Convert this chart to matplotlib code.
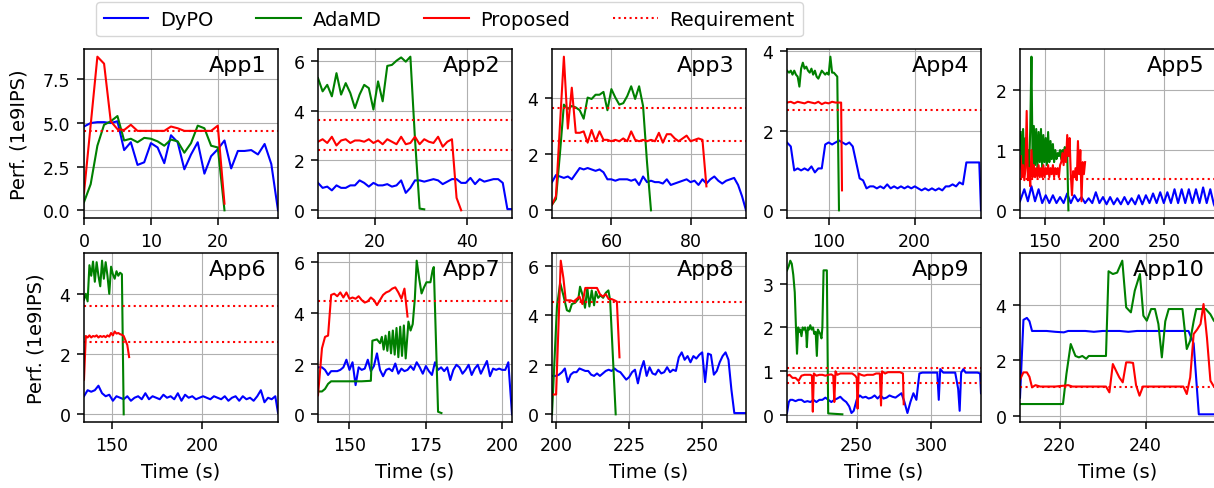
import matplotlib
matplotlib.use("Agg")
import matplotlib.pyplot as plt
from matplotlib.lines import Line2D

# ---------------- data ----------------
series_names = ["DyPO", "AdaMD", "Proposed", "Requirement"]
app_names = ["App1", "App2", "App3", "App4", "App5", "App6", "App7", "App8", "App9", "App10"]

# App1
app1_t_dypo = [0, 1, 2, 3, 4, 5, 6, 7, 8, 9, 10, 11, 12, 13, 14, 15, 16, 17, 18, 19, 20, 21, 22, 23, 24, 25, 26, 27, 28, 29]
app1_dypo = [4.8, 5.0, 5.05, 5.05, 5.0, 5.1, 3.45, 3.9, 2.6, 2.75, 3.85, 3.6, 2.7, 4.3, 3.9, 2.35, 3.2, 3.9, 2.1, 3.1, 3.5, 4.0, 2.4, 3.4, 3.4, 3.45, 3.2, 3.8, 2.65, 0.0]
app1_t_ada = [0, 1, 2, 3, 4, 5, 6, 7, 8, 9, 10, 11, 12, 13, 14, 15, 16, 17, 18, 19, 20, 21]
app1_adamd = [0.47, 1.5, 3.7, 4.9, 5.1, 5.4, 4.0, 4.1, 3.9, 4.15, 4.1, 3.95, 3.7, 4.05, 3.95, 3.3, 3.85, 4.85, 4.7, 3.7, 3.6, 0.0]
app1_t_prop = [0, 1, 2, 3, 4, 5, 6, 7, 8, 9, 10, 11, 12, 13, 14, 15, 16, 17, 18, 19, 20, 21]
app1_prop = [1.0, 4.9, 8.8, 8.4, 5.1, 4.65, 4.6, 4.9, 4.55, 4.55, 4.55, 4.55, 4.55, 4.8, 4.7, 4.55, 4.55, 4.55, 4.55, 4.55, 4.85, 0.38]
app1_req = [4.55]

# App2
app2_t_dypo = [7.7, 8.7, 9.7, 10.7, 11.7, 12.7, 13.7, 14.7, 15.7, 16.7, 17.7, 18.7, 19.7, 20.7, 21.7, 22.7, 23.7, 24.7, 25.7, 26.7, 27.7, 28.7, 29.7, 30.7, 31.7, 32.7, 33.7, 34.7, 35.7, 36.7, 37.7, 38.7, 39.7, 40.7, 41.7, 42.7, 43.7, 44.7, 45.7, 46.7, 47.7, 48.7, 49.7]
app2_dypo = [1.1, 0.9, 0.95, 0.8, 1.0, 0.9, 0.9, 1.0, 1.0, 1.2, 1.1, 0.95, 1.1, 1.0, 1.0, 1.05, 0.95, 1.0, 1.2, 0.7, 0.9, 1.2, 1.2, 1.15, 1.2, 1.25, 1.2, 1.05, 1.15, 1.25, 1.25, 1.1, 1.1, 1.3, 1.05, 1.25, 1.15, 1.2, 1.25, 1.25, 1.1, 0.05, 0.05]
app2_t_ada = [7.7, 8.7, 9.7, 10.7, 11.7, 12.7, 13.7, 14.7, 15.7, 16.7, 17.7, 18.7, 19.7, 20.7, 21.7, 22.7, 23.7, 24.7, 25.7, 26.7, 27.7, 28.7, 29.7, 30.7]
app2_adamd = [5.3, 4.77, 5.03, 4.57, 5.5, 4.64, 5.1, 4.7, 4.1, 4.64, 5.03, 4.9, 4.04, 5.17, 4.37, 5.79, 5.83, 6.0, 6.13, 5.96, 6.16, 2.85, 0.07, 0.04]
app2_t_prop = [7.7, 8.7, 9.7, 10.7, 11.7, 12.7, 13.7, 14.7, 15.7, 16.7, 17.7, 18.7, 19.7, 20.7, 21.7, 22.7, 23.7, 24.7, 25.7, 26.7, 27.7, 28.7, 29.7, 30.7, 31.7, 32.7, 33.7, 34.7, 35.7, 36.7, 37.7, 38.7]
app2_prop = [2.75, 2.85, 2.7, 2.95, 2.6, 2.8, 2.85, 2.7, 2.8, 2.8, 2.75, 2.85, 2.7, 2.8, 2.65, 2.85, 2.75, 2.65, 2.95, 2.65, 2.7, 2.95, 2.65, 2.85, 2.75, 2.7, 2.95, 2.55, 2.75, 2.85, 0.5, 0.0]
app2_req = [3.62, 2.42]

# App3
app3_t_dypo = [45, 46, 47, 48, 49, 50, 51, 52, 53, 54, 55, 56, 57, 58, 59, 60, 61, 62, 63, 64, 65, 66, 67, 68, 69, 70, 71, 72, 73, 74, 75, 76, 77, 78, 79, 80, 81, 82, 83, 84, 85, 86, 87, 88, 89, 90, 91, 92, 93, 94]
app3_dypo = [1.0, 1.25, 1.2, 1.15, 1.2, 1.1, 1.3, 1.5, 1.45, 1.5, 1.45, 1.4, 1.45, 1.35, 1.1, 1.1, 1.05, 1.1, 1.1, 1.1, 1.05, 1.1, 0.9, 1.2, 1.0, 1.05, 1.0, 1.0, 0.95, 1.1, 0.9, 0.95, 1.0, 1.05, 1.1, 1.0, 1.05, 0.9, 1.1, 0.95, 1.1, 1.2, 1.05, 0.95, 1.05, 1.1, 1.15, 0.9, 0.5, 0.0]
app3_t_ada = [45, 46, 47, 48, 49, 50, 51, 52, 53, 54, 55, 56, 57, 58, 59, 60, 61, 62, 63, 64, 65, 66, 67, 68, 69, 70]
app3_adamd = [0.2, 0.4, 2.0, 3.75, 3.6, 3.7, 3.65, 3.55, 3.25, 4.0, 3.95, 4.1, 4.1, 4.2, 3.55, 4.3, 4.0, 3.75, 3.8, 4.05, 4.4, 3.95, 4.4, 3.7, 1.7, 0.0]
app3_t_prop = [45, 46, 47, 48, 49, 50, 51, 52, 53, 54, 55, 56, 57, 58, 59, 60, 61, 62, 63, 64, 65, 66, 67, 68, 69, 70, 71, 72, 73, 74, 75, 76, 77, 78, 79, 80, 81, 82, 83, 84]
app3_prop = [0.2, 0.5, 3.0, 5.45, 2.9, 4.35, 2.75, 2.75, 2.8, 2.4, 2.85, 2.45, 2.8, 2.5, 2.5, 2.45, 2.5, 2.45, 2.55, 2.45, 2.8, 2.5, 2.45, 2.5, 2.45, 2.5, 2.45, 2.75, 2.4, 2.7, 2.7, 2.55, 2.45, 2.55, 2.65, 2.45, 2.5, 2.55, 2.5, 0.85]
app3_req = [3.62, 2.45]

# App4
app4_t_dypo = [51.6, 56, 60, 64, 68, 72, 76, 80, 84, 88, 92, 96, 100, 104, 108, 112, 116, 120, 124, 128, 132, 136, 140, 144, 148, 152, 156, 160, 164, 168, 172, 176, 180, 184, 188, 192, 196, 200, 204, 208, 212, 216, 220, 224, 228, 232, 236, 240, 244, 248, 252, 256, 260, 264, 268, 272, 275, 277]
app4_dypo = [1.7, 1.6, 1.0, 1.05, 1.0, 1.05, 1.0, 1.1, 0.95, 1.05, 1.05, 1.65, 1.7, 1.65, 1.7, 1.75, 1.7, 1.65, 1.7, 1.6, 1.2, 0.8, 0.75, 0.55, 0.6, 0.6, 0.55, 0.6, 0.55, 0.65, 0.55, 0.6, 0.55, 0.6, 0.55, 0.6, 0.55, 0.6, 0.55, 0.5, 0.55, 0.5, 0.55, 0.5, 0.55, 0.5, 0.6, 0.6, 0.65, 0.6, 0.7, 0.65, 1.2, 1.2, 1.2, 1.2, 1.2, 0.0]
app4_t_ada = [51.6, 54, 56, 58, 60, 62, 64, 66, 68, 70, 72, 74, 76, 78, 80, 82, 84, 86, 88, 90, 92, 94, 96, 98, 100, 102, 104, 106, 108, 110, 112]
app4_adamd = [3.5, 3.45, 3.5, 3.4, 3.5, 3.4, 3.35, 3.1, 3.55, 3.7, 3.55, 3.6, 3.5, 3.45, 3.55, 3.4, 3.5, 3.35, 3.3, 3.4, 3.5, 3.45, 3.4, 3.45, 3.4, 3.85, 3.45, 3.45, 3.4, 3.35, 0.0]
app4_t_prop = [51.6, 56, 60, 64, 68, 72, 76, 80, 84, 88, 92, 96, 100, 104, 108, 112, 114.5, 115.5]
app4_prop = [2.7, 2.72, 2.68, 2.72, 2.7, 2.68, 2.72, 2.7, 2.68, 2.72, 2.66, 2.7, 2.68, 2.72, 2.7, 2.7, 2.7, 0.5]
app4_req = [2.52]

# App5
app5_t_dypo = [129.4, 133, 136, 139, 142, 145, 148, 151, 154, 157, 160, 163, 166, 169, 172, 175, 178, 181, 184, 187, 190, 193, 196, 199, 202, 205, 208, 211, 214, 217, 220, 223, 226, 229, 232, 235, 238, 241, 244, 247, 250, 253, 256, 259, 262, 265, 268, 271, 274, 277, 280, 283, 286, 289, 292, 293.8]
app5_dypo = [0.15, 0.35, 0.15, 0.4, 0.15, 0.35, 0.12, 0.25, 0.12, 0.25, 0.12, 0.22, 0.12, 0.28, 0.12, 0.25, 0.15, 0.22, 0.12, 0.2, 0.12, 0.3, 0.12, 0.22, 0.1, 0.22, 0.1, 0.2, 0.1, 0.22, 0.1, 0.2, 0.1, 0.25, 0.1, 0.25, 0.12, 0.28, 0.12, 0.3, 0.12, 0.3, 0.12, 0.35, 0.12, 0.35, 0.12, 0.35, 0.12, 0.35, 0.12, 0.38, 0.12, 0.35, 0.1, 0.02]
app5_t_ada = [130, 131, 132, 133, 134, 135, 136, 137, 138, 139, 140, 141, 142, 143, 144, 145, 146, 147, 148, 149, 150, 151, 152, 153, 154, 155, 156, 157, 158, 159, 160, 161, 162, 163, 164, 165, 166, 167, 168, 169, 170]
app5_adamd = [1.3, 0.7, 1.35, 0.6, 1.2, 0.75, 1.0, 0.65, 1.35, 2.55, 0.7, 1.4, 0.75, 1.35, 0.7, 1.3, 0.8, 1.35, 0.7, 1.25, 0.8, 1.2, 0.75, 1.3, 0.8, 1.15, 0.85, 1.1, 0.8, 1.0, 0.85, 0.95, 0.9, 1.0, 0.85, 1.0, 0.95, 1.05, 0.9, 0.95, 0.0]
app5_t_prop = [130, 131, 132, 133, 134, 135, 136, 137, 138, 139, 140, 141, 142, 143, 144, 145, 146, 147, 148, 149, 150, 151, 152, 153, 154, 155, 156, 157, 158, 159, 160, 161, 162, 163, 164, 165, 166, 167, 168, 169, 170, 171, 172, 173, 174, 175, 176, 177, 178, 179, 180, 181, 182, 183, 184]
app5_prop = [0.9, 0.55, 0.75, 0.5, 0.7, 1.65, 0.5, 0.7, 0.4, 1.0, 0.55, 0.75, 0.55, 0.7, 0.55, 0.75, 0.55, 0.7, 0.55, 0.75, 0.55, 0.7, 0.6, 0.75, 0.55, 0.7, 0.6, 0.75, 0.55, 0.7, 0.6, 0.7, 0.55, 0.75, 0.8, 0.95, 0.75, 1.0, 0.8, 1.25, 0.9, 1.2, 0.6, 0.25, 0.65, 0.55, 0.7, 0.5, 1.15, 0.6, 1.0, 0.15, 0.8, 0.6, 0.8]
app5_req = [0.52]

# App6
app6_t_dypo = [134.5, 136.5, 138.5, 140.5, 142.5, 144.5, 146.5, 148.5, 150.5, 152.5, 154.5, 156.5, 158.5, 160.5, 162.5, 164.5, 166.5, 168.5, 170.5, 172.5, 174.5, 176.5, 178.5, 180.5, 182.5, 184.5, 186.5, 188.5, 190.5, 192.5, 194.5, 196.5, 198.5, 200.5, 202.5, 204.5, 206.5, 208.5, 210.5, 212.5, 214.5, 216.5, 218.5, 220.5, 222.5, 224.5, 226.5, 228.5, 230.5, 232.5, 234.5, 236.5, 238.5, 240.5, 242]
app6_dypo = [0.6, 0.8, 0.75, 0.8, 0.95, 0.7, 0.6, 0.65, 0.45, 0.6, 0.55, 0.5, 0.6, 0.45, 0.55, 0.6, 0.5, 0.7, 0.5, 0.6, 0.55, 0.5, 0.65, 0.55, 0.6, 0.5, 0.7, 0.45, 0.65, 0.55, 0.6, 0.5, 0.55, 0.6, 0.55, 0.5, 0.6, 0.55, 0.5, 0.6, 0.45, 0.55, 0.6, 0.45, 0.6, 0.5, 0.55, 0.45, 0.6, 0.8, 0.4, 0.55, 0.5, 0.6, 0.05]
app6_t_ada = [134.5, 135.5, 136.5, 137.5, 138.5, 139.5, 140.5, 141.5, 142.5, 143.5, 144.5, 145.5, 146.5, 147.5, 148.5, 149.5, 150.5, 151.5, 152.5, 153.5, 154.5, 155.5, 156.5]
app6_adamd = [3.8, 4.0, 3.75, 4.95, 4.6, 5.07, 4.4, 5.05, 4.6, 4.25, 5.1, 4.5, 5.05, 4.6, 4.0, 4.9, 4.65, 4.5, 4.75, 4.6, 4.7, 4.65, 0.0]
app6_t_prop = [134.5, 135.5, 136.5, 137.5, 138.5, 139.5, 140.5, 141.5, 142.5, 143.5, 144.5, 145.5, 146.5, 147.5, 148.5, 149.5, 150.5, 151.5, 152.5, 153.5, 154.5, 155.5, 156.5, 157.5, 158.5, 159.5]
app6_prop = [1.15, 2.6, 2.55, 2.62, 2.55, 2.6, 2.58, 2.62, 2.55, 2.6, 2.57, 2.6, 2.56, 2.62, 2.58, 2.7, 2.62, 2.75, 2.68, 2.7, 2.66, 2.64, 2.6, 2.45, 2.3, 1.9]
app6_req = [3.58, 2.4]

# App7
app7_t_dypo = [139.7, 141, 142, 143, 144, 145, 146, 147, 148, 149, 150, 151, 152, 153, 154, 155, 156, 157, 158, 159, 160, 161, 162, 163, 164, 165, 166, 167, 168, 169, 170, 171, 172, 173, 174, 175, 176, 177, 178, 179, 180, 181, 182, 183, 184, 185, 186, 187, 188, 189, 190, 191, 192, 193, 194, 195, 196, 197, 198, 199, 200, 201, 202, 203.2]
app7_dypo = [1.85, 1.85, 1.75, 1.55, 1.7, 1.7, 1.7, 1.75, 1.85, 2.15, 1.75, 2.05, 1.15, 1.85, 1.75, 1.8, 2.15, 1.7, 1.9, 2.4, 1.75, 1.5, 1.75, 1.8, 1.7, 2.0, 1.6, 1.8, 1.7, 1.75, 1.9, 1.75, 2.05, 1.85, 1.6, 1.9, 1.7, 1.55, 2.05, 1.75, 1.85, 1.7, 1.85, 1.35, 1.75, 1.95, 1.85, 1.6, 1.75, 1.95, 1.55, 1.8, 1.95, 1.6, 1.85, 2.1, 1.5, 1.8, 1.75, 1.8, 1.75, 1.75, 2.05, 0.0]
app7_t_ada = [139.7, 141, 142, 143, 144, 146, 150, 154, 157, 157.5, 159, 160, 160.6, 161.2, 161.8, 162.4, 163, 163.6, 164.2, 164.8, 165.4, 166, 166.6, 167.2, 167.8, 168.4, 169.3, 170, 170.7, 171.4, 172, 172.9, 173.6, 174.4, 175.2, 176.5, 177.2, 177.6, 179, 180.1]
app7_adamd = [0.9, 0.9, 1.0, 1.2, 1.3, 1.3, 1.3, 1.3, 1.32, 2.9, 2.95, 2.8, 3.05, 2.55, 3.1, 2.5, 3.25, 2.4, 3.3, 2.35, 3.4, 2.25, 3.45, 2.3, 3.5, 2.2, 3.65, 3.3, 3.55, 4.56, 6.05, 5.28, 4.76, 5.0, 5.2, 5.2, 5.67, 5.8, 0.1, 0.05]
app7_t_prop = [139.7, 141, 142, 143, 144, 145, 146, 147, 148, 149, 150, 151, 152, 153, 154, 155, 156, 157, 158, 159, 160, 161, 162, 163, 164, 165, 166, 167, 168, 169]
app7_prop = [0.75, 2.6, 3.05, 3.1, 4.7, 4.75, 4.65, 4.8, 4.6, 4.8, 4.55, 4.6, 4.55, 4.65, 4.5, 4.4, 4.45, 4.6, 4.5, 4.3, 4.5, 4.7, 4.8, 4.85, 4.95, 5.0, 4.8, 4.55, 4.95, 3.85]
app7_req = [4.48]

# App8
app8_t_dypo = [199, 200, 201, 202, 203, 204, 205, 206, 207, 208, 209, 210, 211, 212, 213, 214, 215, 216, 217, 218, 219, 220, 221, 222, 223, 224, 225, 226, 227, 228, 229, 230, 231, 232, 233, 234, 235, 236, 237, 238, 239, 240, 241, 242, 243, 244, 245, 246, 247, 248, 249, 250, 251, 252, 253, 254, 255, 256, 257, 258, 259, 260, 261, 262, 263, 264, 265]
app8_dypo = [1.55, 1.55, 1.6, 1.7, 1.85, 1.3, 1.6, 1.7, 1.7, 1.85, 1.8, 1.75, 1.75, 1.6, 1.55, 1.65, 1.55, 1.65, 1.75, 1.8, 1.75, 1.85, 1.75, 1.7, 1.55, 1.4, 1.5, 1.7, 1.8, 1.25, 1.8, 2.15, 1.55, 1.9, 1.65, 1.6, 1.8, 1.65, 1.7, 1.9, 1.7, 1.8, 1.75, 2.3, 2.5, 2.2, 2.35, 2.1, 2.35, 2.25, 2.4, 2.5, 1.3, 2.45, 2.4, 1.6, 1.75, 2.1, 2.35, 2.5, 2.2, 1.0, 0.05, 0.05, 0.05, 0.05, 0.05]
app8_t_ada = [198.6, 200.3, 201.4, 202.5, 203.7, 204.6, 205.4, 206.5, 207.6, 208.2, 209.1, 209.9, 210.7, 211.4, 212.2, 213, 213.6, 214.4, 215.2, 216.1, 217, 217.9, 218.5, 220.4]
app8_adamd = [0.0, 4.35, 5.3, 4.8, 4.2, 4.15, 4.45, 4.5, 4.65, 5.15, 4.8, 4.3, 5.1, 4.35, 5.0, 4.4, 4.95, 4.7, 4.8, 4.7, 4.9, 5.0, 4.6, 0.0]
app8_t_prop = [198.9, 200, 201.6, 202.5, 203.3, 204, 205, 206, 207, 208, 209, 210, 211, 212, 213, 214, 215, 216, 217, 218, 219, 220, 220.8, 221.7]
app8_prop = [0.8, 0.8, 6.2, 5.5, 4.6, 4.6, 4.6, 4.55, 4.65, 4.75, 4.45, 5.1, 5.1, 5.1, 5.1, 5.1, 4.85, 4.75, 4.85, 4.65, 4.65, 4.6, 4.55, 2.3]
app8_req = [4.52]

# App9
app9_t_dypo = [203.3, 204.5, 205.5, 207, 209, 211, 213, 215, 217, 219, 221, 223, 225, 227, 229, 231, 233, 235, 237, 239, 241, 243, 245, 246.5, 248, 250, 252, 254, 256, 258, 260, 262, 264, 266, 268, 270, 272, 274, 276, 278, 280, 282, 284, 286, 288, 290, 292, 294, 296, 298, 300, 302, 304, 305, 306, 308, 310, 312, 314, 316, 318, 319, 320, 321.5, 323, 325, 327, 329, 331, 332.7, 333.3]
app9_dypo = [0.05, 0.3, 0.35, 0.35, 0.32, 0.35, 0.35, 0.3, 0.32, 0.3, 0.35, 0.3, 0.35, 0.35, 0.4, 0.35, 0.3, 0.35, 0.38, 0.42, 0.35, 0.3, 0.2, 0.05, 0.1, 0.35, 0.45, 0.4, 0.42, 0.38, 0.4, 0.45, 0.38, 0.45, 0.38, 0.4, 0.45, 0.42, 0.4, 0.45, 0.5, 0.3, 0.05, 0.3, 0.5, 0.35, 0.95, 0.97, 0.97, 0.97, 0.97, 0.97, 0.97, 0.35, 1.05, 0.97, 0.97, 0.97, 0.97, 0.97, 0.6, 0.1, 0.97, 1.05, 0.97, 0.97, 0.97, 0.97, 0.97, 0.95, 0.5]
app9_t_ada = [203.3, 204.5, 205.5, 206.5, 207.5, 208.5, 209.3, 210, 210.8, 211.5, 212.2, 213, 213.8, 214.6, 215.4, 216.2, 216.6, 217.3, 218.1, 218.9, 219.8, 220.7, 221.6, 222.5, 223.3, 224, 224.8, 225.6, 226.4, 227, 227.8, 229, 230, 230.9, 240.4]
app9_adamd = [3.3, 3.4, 3.52, 3.45, 3.2, 2.8, 2.0, 1.4, 2.0, 1.9, 1.95, 1.8, 2.0, 1.95, 2.0, 1.85, 1.55, 2.0, 1.95, 2.05, 1.95, 2.0, 1.85, 1.9, 1.35, 1.95, 1.9, 1.85, 1.75, 2.0, 3.3, 3.3, 3.3, 0.04, 0.02]
app9_t_prop = [203.3, 205, 207, 209, 211, 213, 215, 217, 219, 220, 220.6, 221.3, 223, 225, 227, 229, 231, 233, 234.3, 235, 235.8, 237, 239, 241, 243, 245, 247, 249, 250, 250.6, 251.3, 253, 255, 257, 259, 261, 263, 265.5, 266.3, 267, 269, 271, 273, 275, 277, 279, 281, 281.5]
app9_prop = [0.9, 0.92, 0.85, 0.85, 0.78, 0.9, 0.92, 0.92, 0.92, 0.9, 0.08, 0.95, 0.9, 0.92, 0.92, 0.9, 0.92, 0.93, 0.9, 0.3, 1.0, 0.92, 0.95, 0.95, 0.95, 0.95, 0.95, 0.9, 0.85, 0.15, 0.95, 0.92, 0.9, 0.92, 0.92, 0.92, 0.95, 0.95, 0.22, 1.0, 0.95, 0.98, 0.98, 0.98, 0.98, 0.98, 0.95, 0.25]
app9_req = [1.07, 0.73]

# App10
app10_t_dypo = [210.8, 211.6, 212.4, 213, 213.6, 215, 217, 219, 221, 222, 224, 226, 228, 230, 232, 234, 236, 238, 240, 242, 244, 246, 248, 250, 251.2, 252.4, 254, 256.4]
app10_dypo = [0.65, 3.45, 3.52, 3.4, 3.05, 3.05, 3.05, 3.02, 3.0, 3.05, 3.05, 3.05, 3.02, 3.05, 3.05, 3.05, 3.02, 3.05, 3.05, 3.05, 3.05, 3.05, 3.05, 3.05, 2.6, 0.05, 0.05, 0.05]
app10_t_ada = [210.8, 213, 216, 219, 220.8, 221.6, 222.6, 223.7, 224.5, 225.3, 226.2, 226.8, 227.8, 229, 230.8, 231.4, 232.4, 233.4, 234.6, 235.5, 236.6, 237.5, 238.7, 239.5, 240.3, 241.3, 242.2, 243, 243.8, 244.6, 245.4, 246.6, 247.8, 248.6, 249.6, 250.4, 251.2, 251.8, 252.8, 254, 255.1, 255.9, 256.4]
app10_adamd = [0.42, 0.42, 0.42, 0.42, 0.42, 1.5, 2.58, 2.15, 2.1, 2.15, 2.05, 2.15, 2.15, 2.15, 2.15, 5.2, 5.1, 5.15, 5.58, 3.9, 3.72, 4.5, 5.1, 3.6, 3.42, 3.84, 3.84, 3.3, 2.1, 3.4, 3.84, 3.84, 3.84, 3.84, 2.4, 2.7, 3.4, 3.84, 3.84, 3.84, 3.65, 3.42, 3.35]
app10_t_prop = [210.8, 211.6, 212.4, 213, 213.6, 214.4, 215.5, 217, 219, 221, 222, 223, 225, 227, 229, 230.8, 231.6, 232.4, 233.2, 233.9, 234.7, 235.5, 236.3, 237.1, 237.8, 238.6, 239.4, 241, 243, 245, 247, 248.8, 249.6, 250.4, 251.2, 252, 252.8, 253.5, 254.3, 255.1, 255.9, 256.4]
app10_prop = [1.3, 1.56, 1.56, 1.4, 1.02, 1.1, 1.05, 1.05, 1.05, 1.08, 1.1, 1.05, 1.05, 1.05, 1.05, 1.05, 0.84, 1.86, 1.6, 1.38, 1.2, 1.92, 1.92, 1.9, 1.1, 0.72, 1.05, 1.05, 1.05, 1.05, 1.05, 1.05, 0.78, 1.38, 2.94, 3.1, 3.3, 4.02, 2.8, 1.26, 1.05, 1.05]
app10_req = [1.05]

# tick positions
xticks_list = [[0, 10, 20], [20, 40], [60, 80], [100, 200], [150, 200, 250],
               [150, 200], [150, 175, 200], [200, 225, 250], [250, 300], [220, 240]]
yticks_list = [[0, 2.5, 5, 7.5], [0, 2, 4, 6], [0, 2, 4], [0, 2, 4], [0, 1, 2],
               [0, 2, 4], [0, 2, 4, 6], [0, 2, 4, 6], [0, 1, 2, 3], [0, 2, 4]]

apps = [
    (app1_t_dypo, app1_dypo, app1_t_ada, app1_adamd, app1_t_prop, app1_prop, app1_req),
    (app2_t_dypo, app2_dypo, app2_t_ada, app2_adamd, app2_t_prop, app2_prop, app2_req),
    (app3_t_dypo, app3_dypo, app3_t_ada, app3_adamd, app3_t_prop, app3_prop, app3_req),
    (app4_t_dypo, app4_dypo, app4_t_ada, app4_adamd, app4_t_prop, app4_prop, app4_req),
    (app5_t_dypo, app5_dypo, app5_t_ada, app5_adamd, app5_t_prop, app5_prop, app5_req),
    (app6_t_dypo, app6_dypo, app6_t_ada, app6_adamd, app6_t_prop, app6_prop, app6_req),
    (app7_t_dypo, app7_dypo, app7_t_ada, app7_adamd, app7_t_prop, app7_prop, app7_req),
    (app8_t_dypo, app8_dypo, app8_t_ada, app8_adamd, app8_t_prop, app8_prop, app8_req),
    (app9_t_dypo, app9_dypo, app9_t_ada, app9_adamd, app9_t_prop, app9_prop, app9_req),
    (app10_t_dypo, app10_dypo, app10_t_ada, app10_adamd, app10_t_prop, app10_prop, app10_req),
]

# ---------------- style ----------------
plt.rcParams.update({
    "axes.linewidth": 1.1,
    "xtick.major.size": 4.9, "ytick.major.size": 4.9,
    "xtick.major.width": 1.1, "ytick.major.width": 1.1,
    "xtick.major.pad": 4.9, "ytick.major.pad": 4.9,
})

# ---------------- figure ----------------
W, H = 1214, 489
fig = plt.figure(figsize=(W / 100, H / 100), dpi=100)

col_left = [84, 318, 552, 787, 1020]
col_width = [194, 194, 194, 194, 196]
row_top = [50, 254]
ax_h = 169

c_dypo, c_ada, c_prop = "blue", "green", "red"

for i, (name, data) in enumerate(zip(app_names, apps)):
    row, col = divmod(i, 5)
    l = col_left[col]
    w = col_width[col]
    t = row_top[row]
    ax = fig.add_axes([l / W, 1 - (t + ax_h) / H, w / W, ax_h / H])
    td, vd, ta, va, tp, vp, req = data
    ax.plot(td, vd, color=c_dypo, lw=1.5)
    ax.plot(ta, va, color=c_ada, lw=1.5)
    ax.plot(tp, vp, color=c_prop, lw=1.5)
    for r in req:
        ax.axhline(r, color="red", ls=":", lw=1.5)
    ax.margins(x=0)
    ax.grid(True)
    ax.set_xticks(xticks_list[i])
    ax.set_yticks(yticks_list[i])
    ax.tick_params(labelsize=12.5)
    ax.text(0.94, 0.965, name, transform=ax.transAxes, ha="right", va="top", fontsize=16)
    if col == 0:
        ax.set_ylabel("Perf. (1e9IPS)", fontsize=14, labelpad=10)
    if row == 1:
        ax.set_xlabel("Time (s)", fontsize=14, labelpad=6)

handles = [
    Line2D([], [], color=c_dypo, lw=1.5, label=series_names[0]),
    Line2D([], [], color=c_ada, lw=1.5, label=series_names[1]),
    Line2D([], [], color=c_prop, lw=1.5, label=series_names[2]),
    Line2D([], [], color="red", ls=":", lw=1.5, label=series_names[3]),
]
fig.legend(handles=handles, loc="upper center", bbox_to_anchor=(0.37, 1.0), ncol=4,
           fontsize=14, borderaxespad=0.15, handlelength=2.3, handletextpad=0.6,
           columnspacing=2.2)

fig.savefig("out.png", dpi=100)
